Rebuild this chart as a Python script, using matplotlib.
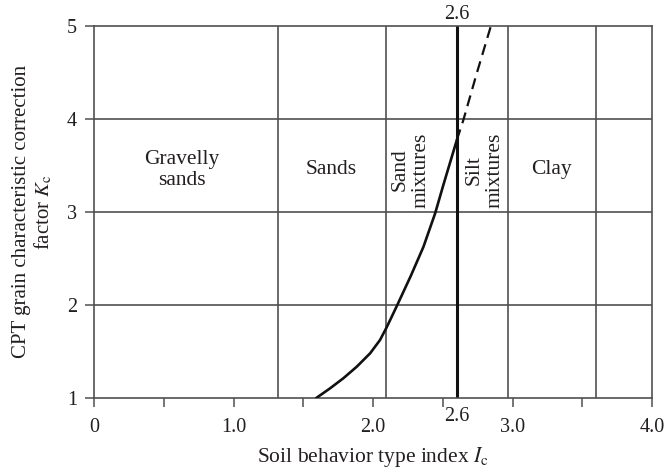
import matplotlib
matplotlib.use("Agg")
import matplotlib.pyplot as plt
import matplotlib.transforms as mtransforms

# Kc curve (solid up to Ic = 2.6, dashed beyond)
ic_solid = [1.595, 1.691, 1.786, 1.882, 1.978, 2.049, 2.093, 2.133, 2.174,
            2.27, 2.36, 2.444, 2.504, 2.564, 2.6]
kc_solid = [1.0, 1.101, 1.209, 1.333, 1.477, 1.620, 1.746, 1.87, 2.0,
            2.31, 2.62, 2.98, 3.29, 3.59, 3.77]
ic_dashed = [2.6, 2.647, 2.743, 2.845]
kc_dashed = [3.77, 3.986, 4.488, 5.0]

# Soil type zone boundaries and names
boundaries = [1.32, 2.09, 2.6, 2.97, 3.6]
zone_names = ["Gravelly\nsands", "Sands", "Sand\nmixtures", "Silt\nmixtures", "Clay"]
zone_x = [0.63, 1.70, 2.27, 2.80, 3.28]
zone_rot = [0, 0, 90, 90, 0]
zone_y = 3.45

kc_grid = [2, 3, 4]
x_ticks = [0, 0.5, 1.0, 1.5, 2.0, 2.5, 3.0, 3.5, 4.0]
x_ticklabels = ["0", "", "1.0", "", "2.0", "", "3.0", "", "4.0"]
y_ticks = [1, 2, 3, 4, 5]
y_ticklabels = ["1", "2", "3", "4", "5"]

plt.rcParams["font.family"] = ["Liberation Serif", "DejaVu Serif"]
plt.rcParams["mathtext.fontset"] = "stix"

text_color = "#231f20"
grid_color = "#505050"
fs_tick = 14.5
fs_text = 15.5

fig = plt.figure(figsize=(6.66, 4.70), dpi=100)
ax = fig.add_axes([0.1416, 0.1538, 0.979 - 0.1416, 0.9453 - 0.1538])

ax.set_xlim(0, 4.0)
ax.set_ylim(1, 5)

for k in kc_grid:
    ax.axhline(k, color=grid_color, lw=1.2, zorder=1)
for b in boundaries:
    if b == 2.6:
        ax.axvline(b, color="#111111", lw=2.2, zorder=2)
    else:
        ax.axvline(b, color=grid_color, lw=1.2, zorder=1)

ax.plot(ic_solid, kc_solid, color="#111111", lw=1.9, zorder=3,
        solid_joinstyle="round")
ax.plot(ic_dashed, kc_dashed, color="#111111", lw=1.6, ls=(0, (5, 3)), zorder=3)

for name, x, rot in zip(zone_names, zone_x, zone_rot):
    ax.text(x, zone_y, name, rotation=rot, ha="center", va="center",
            multialignment="center", fontsize=fs_text, color=text_color,
            linespacing=1.1)

for s in ax.spines.values():
    s.set_color(grid_color)
    s.set_linewidth(1.2)

ax.set_xticks(x_ticks)
ax.set_xticklabels(x_ticklabels)
ax.set_yticks(y_ticks)
ax.set_yticklabels(y_ticklabels)
ax.tick_params(direction="out", length=6.5, width=1.1, color=grid_color,
               labelsize=fs_tick, labelcolor=text_color, pad=6)
ax.tick_params(axis="x", pad=8)

# 2.6 markers below and above the thick boundary line
trans = mtransforms.blended_transform_factory(ax.transData, ax.transAxes)
ax.text(2.6, -0.026, "2.6", transform=trans, ha="center", va="top",
        fontsize=fs_tick, color=text_color)
ax.text(2.6, 1.004, "2.6", transform=trans, ha="center", va="bottom",
        fontsize=fs_tick, color=text_color)

ax.set_xlabel(r"Soil behavior type index $I_\mathrm{c}$", fontsize=fs_text,
              color=text_color, labelpad=6)
ax.set_ylabel("CPT grain characteristic correction\n" + r"factor $K_\mathrm{c}$",
              fontsize=15, color=text_color, labelpad=9, linespacing=1.1)

fig.savefig("out.png", dpi=100)
